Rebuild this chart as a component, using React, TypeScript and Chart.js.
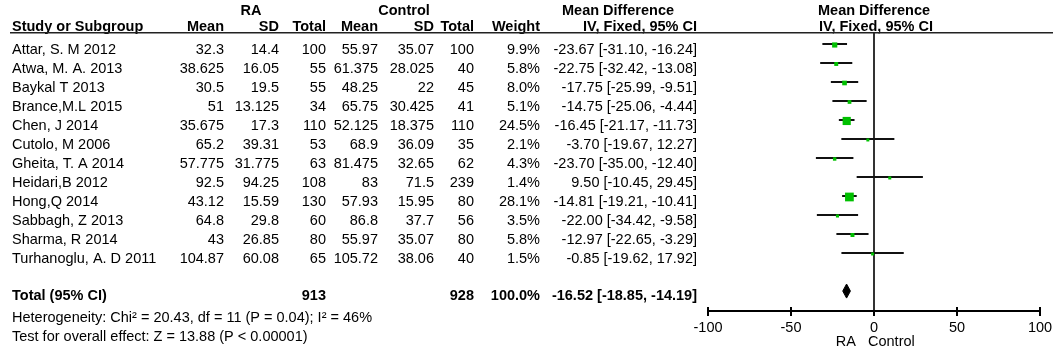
import React, { useEffect, useRef } from 'react';
import { Chart, registerables } from 'chart.js';

Chart.register(...registerables);

// ---------- data ----------
const studies = [
  'Attar, S. M 2012',
  'Atwa, M. A. 2013',
  'Baykal T 2013',
  'Brance,M.L 2015',
  'Chen, J 2014',
  'Cutolo, M 2006',
  'Gheita, T. A 2014',
  'Heidari,B 2012',
  'Hong,Q 2014',
  'Sabbagh, Z 2013',
  'Sharma, R 2014',
  'Turhanoglu, A. D 2011',
];
const raMean = [32.3, 38.625, 30.5, 51, 35.675, 65.2, 57.775, 92.5, 43.12, 64.8, 43, 104.87];
const raSD = [14.4, 16.05, 19.5, 13.125, 17.3, 39.31, 31.775, 94.25, 15.59, 29.8, 26.85, 60.08];
const raTotal = [100, 55, 55, 34, 110, 53, 63, 108, 130, 60, 80, 65];
const ctrlMean = [55.97, 61.375, 48.25, 65.75, 52.125, 68.9, 81.475, 83, 57.93, 86.8, 55.97, 105.72];
const ctrlSD = [35.07, 28.025, 22, 30.425, 18.375, 36.09, 32.65, 71.5, 15.95, 37.7, 35.07, 38.06];
const ctrlTotal = [100, 40, 45, 41, 110, 35, 62, 239, 80, 56, 80, 40];
const weights = [9.9, 5.8, 8.0, 5.1, 24.5, 2.1, 4.3, 1.4, 28.1, 3.5, 5.8, 1.5];
const md = [-23.67, -22.75, -17.75, -14.75, -16.45, -3.7, -23.7, 9.5, -14.81, -22.0, -12.97, -0.85];
const ciLow = [-31.1, -32.42, -25.99, -25.06, -21.17, -19.67, -35.0, -10.45, -19.21, -34.42, -22.65, -19.62];
const ciHigh = [-16.24, -13.08, -9.51, -4.44, -11.73, 12.27, -12.4, 29.45, -10.41, -9.58, -3.29, 17.92];

const totalLabel = 'Total (95% CI)';
const totalRA = 913;
const totalCtrl = 928;
const totalWeight = 100.0;
const totalMD = -16.52;
const totalLow = -18.85;
const totalHigh = -14.19;
const heterogeneityText = 'Heterogeneity: Chi\u00b2 = 20.43, df = 11 (P = 0.04); I\u00b2 = 46%';
const overallText = 'Test for overall effect: Z = 13.88 (P < 0.00001)';

const xTicks = [-100, -50, 0, 50, 100];
const favourLeft = 'RA';
const favourRight = 'Control';
const groupLeft = 'RA';
const groupRight = 'Control';
const headerStudy = 'Study or Subgroup';
const headerEffect = 'Mean Difference';
const headerMethod = 'IV, Fixed, 95% CI';

// ---------- styling ----------
const FONT = '"Liberation Sans", Arial, sans-serif';
const FS = 14.5;
const GREEN = 'rgb(0,192,0)';
const TOTAL_ROW = 13;

const fmtCI = (m: number, l: number, h: number) =>
  `${m.toFixed(2)} [${l.toFixed(2)}, ${h.toFixed(2)}]`;

const tablePlugin = {
  id: 'forestTable',
  afterDraw(chart: any) {
    const ctx: CanvasRenderingContext2D = chart.ctx;
    const ys = chart.scales.y;
    const xs = chart.scales.x;
    const area = chart.chartArea;
    const zeroPx = xs.getPixelForValue(0);
    ctx.save();
    ctx.fillStyle = '#000';
    const reg = `${FS}px ${FONT}`;
    const bold = `bold ${FS}px ${FONT}`;
    const txt = (s: string, x: number, y: number, align: CanvasTextAlign, f: string) => {
      ctx.font = f;
      ctx.textAlign = align;
      ctx.textBaseline = 'alphabetic';
      ctx.fillText(s, x, y);
    };
    const col = { name: 12, raMean: 224, raSD: 279, raTotal: 326, cMean: 378, cSD: 434, cTotal: 474, weight: 540, ci: 697 };

    // headers
    const h1 = 15;
    const h2 = 31;
    txt(groupLeft, 251, h1, 'center', bold);
    txt(groupRight, 404, h1, 'center', bold);
    txt(headerEffect, 618, h1, 'center', bold);
    txt(headerEffect, zeroPx, h1, 'center', bold);
    txt(headerStudy, col.name, h2, 'left', bold);
    txt('Mean', col.raMean, h2, 'right', bold);
    txt('SD', col.raSD, h2, 'right', bold);
    txt('Total', col.raTotal, h2, 'right', bold);
    txt('Mean', col.cMean, h2, 'right', bold);
    txt('SD', col.cSD, h2, 'right', bold);
    txt('Total', col.cTotal, h2, 'right', bold);
    txt('Weight', col.weight, h2, 'right', bold);
    txt(headerMethod, col.ci, h2, 'right', bold);
    txt(headerMethod, zeroPx + 2, h2, 'center', bold);

    // header rule
    ctx.strokeStyle = '#222';
    ctx.lineWidth = 1.5;
    ctx.beginPath();
    ctx.moveTo(10, 32.75);
    ctx.lineTo(1053, 32.75);
    ctx.stroke();

    // rows
    studies.forEach((s, i) => {
      const y = Math.round(ys.getPixelForValue(i) + 10);
      txt(s, col.name, y, 'left', reg);
      txt(String(raMean[i]), col.raMean, y, 'right', reg);
      txt(String(raSD[i]), col.raSD, y, 'right', reg);
      txt(String(raTotal[i]), col.raTotal, y, 'right', reg);
      txt(String(ctrlMean[i]), col.cMean, y, 'right', reg);
      txt(String(ctrlSD[i]), col.cSD, y, 'right', reg);
      txt(String(ctrlTotal[i]), col.cTotal, y, 'right', reg);
      txt(weights[i].toFixed(1) + '%', col.weight, y, 'right', reg);
      txt(fmtCI(md[i], ciLow[i], ciHigh[i]), col.ci, y, 'right', reg);
    });

    // total row
    const ty = Math.round(ys.getPixelForValue(TOTAL_ROW) + 9);
    txt(totalLabel, col.name, ty, 'left', bold);
    txt(String(totalRA), col.raTotal, ty, 'right', bold);
    txt(String(totalCtrl), col.cTotal, ty, 'right', bold);
    txt(totalWeight.toFixed(1) + '%', col.weight, ty, 'right', bold);
    txt(fmtCI(totalMD, totalLow, totalHigh), col.ci, ty, 'right', bold);

    txt(heterogeneityText, col.name, 322, 'left', reg);
    txt(overallText, col.name, 341, 'left', reg);

    // favours labels
    txt(favourLeft, zeroPx - 18, 346, 'right', reg);
    txt(favourRight, zeroPx - 6, 346, 'left', reg);

    // upper halves of axis ticks
    ctx.strokeStyle = '#000';
    ctx.lineWidth = 2;
    xs.ticks.forEach((t: any) => {
      if (t.value === 0) return;
      const px = Math.round(xs.getPixelForValue(t.value));
      ctx.beginPath();
      ctx.moveTo(px, area.bottom - 4);
      ctx.lineTo(px, area.bottom);
      ctx.stroke();
    });
    ctx.restore();
  },
};

export default function App() {
  const ref = useRef<HTMLCanvasElement | null>(null);

  useEffect(() => {
    if (!ref.current) return;
    const whiskers: any[] = [];
    studies.forEach((_, i) => {
      whiskers.push({ x: ciLow[i], y: i });
      whiskers.push({ x: ciHigh[i], y: i });
      whiskers.push({ x: null, y: null });
    });
    const squares = studies.map((_, i) => ({ x: md[i], y: i + 0.05, w: weights[i] }));
    const dh = 0.37;

    const chart = new Chart(ref.current, {
      type: 'scatter',
      data: {
        datasets: [
          {
            data: whiskers,
            order: 5,
            showLine: true,
            spanGaps: false,
            borderColor: '#111',
            borderWidth: 2,
            pointRadius: 0,
            fill: false,
          },
          {
            data: squares,
            order: 1,
            pointStyle: 'rect',
            pointRadius: (c: any) => {
              const w = c.raw && c.raw.w ? c.raw.w : 1;
              const side = Math.max(3, 1.65 * Math.sqrt(w));
              return side / Math.SQRT2;
            },
            backgroundColor: GREEN,
            borderWidth: 0,
            borderColor: GREEN,
          },
          {
            data: [
              { x: totalLow, y: TOTAL_ROW },
              { x: totalMD, y: TOTAL_ROW - dh },
              { x: totalHigh, y: TOTAL_ROW },
            ],
            order: 2,
            showLine: true,
            borderColor: '#000',
            borderWidth: 1,
            pointRadius: 0,
            backgroundColor: '#000',
            fill: '+1',
          },
          {
            data: [
              { x: totalLow, y: TOTAL_ROW },
              { x: totalMD, y: TOTAL_ROW + dh },
              { x: totalHigh, y: TOTAL_ROW },
            ],
            order: 3,
            showLine: true,
            borderColor: '#000',
            borderWidth: 1,
            pointRadius: 0,
            fill: false,
          },
        ] as any,
      },
      options: {
        responsive: false,
        animation: false,
        devicePixelRatio: 1,
        layout: { padding: { left: 708, right: 16, top: 33, bottom: 0 } },
        plugins: { legend: { display: false }, tooltip: { enabled: false } },
        events: [],
        scales: {
          x: {
            type: 'linear',
            min: -100,
            max: 100,
            afterBuildTicks: (s: any) => {
              s.ticks = xTicks.map((v) => ({ value: v }));
            },
            afterFit: (s: any) => {
              s.height = 40;
            },
            ticks: {
              color: '#000',
              font: { family: FONT, size: FS },
              padding: 3,
            },
            grid: {
              drawOnChartArea: true,
              color: (c: any) => (c.tick && c.tick.value === 0 ? '#333' : 'rgba(0,0,0,0)'),
              lineWidth: 2,
              tickColor: '#000',
              tickLength: 5,
              tickWidth: 2,
            },
            border: { display: true, color: '#000', width: 2 },
          },
          y: {
            type: 'linear',
            display: false,
            reverse: true,
            min: -0.58,
            max: 14.05,
          },
        },
      } as any,
      plugins: [tablePlugin],
    });
    return () => chart.destroy();
  }, []);

  return (
    <div style={{ position: 'absolute', left: 0, top: 0, width: 1056, height: 351, background: '#fff' }}>
      <canvas ref={ref} width={1056} height={351} style={{ display: 'block', width: 1056, height: 351 }} />
    </div>
  );
}
